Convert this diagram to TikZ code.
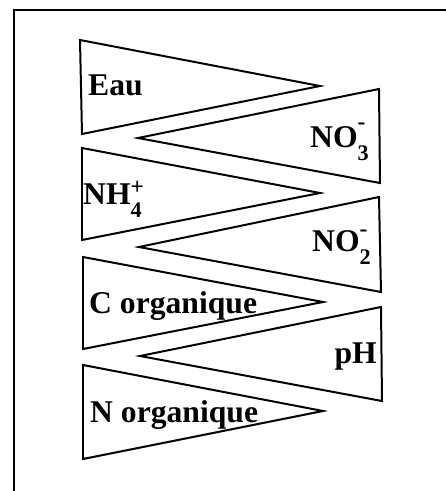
\documentclass[tikz,border=0pt]{standalone}
\usepackage{fontspec}
\setmainfont{Liberation Serif}
\newcommand{\chemion}[3][0.55em]{\rlap{\raisebox{#1}{\fontsize{20}{20}\selectfont #3}}\raisebox{-0.42em}{\fontsize{19}{19}\selectfont #2}}

\begin{document}
\begin{tikzpicture}[x=0.03cm,y=-0.03cm,
				wedge/.style={draw,line width=1.7pt,line join=miter},
				tag/.style={font=\fontsize{27}{31}\selectfont\bfseries,inner sep=0pt}]
				\useasboundingbox (0,0) rectangle (446,491);
				% cadre
				\draw[line width=2pt] (14,491) -- (14,10) -- (446,10);
				% triangles vers la droite
				\draw[wedge] (80,40)  -- (320,86)  -- (82,134) -- cycle;
				\draw[wedge] (82,148) -- (320,193) -- (82,240) -- cycle;
				\draw[wedge] (83,257) -- (323,302) -- (83,349) -- cycle;
				\draw[wedge] (83,365) -- (323,411) -- (83,459) -- cycle;
				% triangles vers la gauche
				\draw[wedge] (379,89)  -- (138,138) -- (380,183) -- cycle;
				\draw[wedge] (379,197) -- (139,247) -- (381,292) -- cycle;
				\draw[wedge] (381,307) -- (140,356) -- (382,401) -- cycle;
				% textes
				\node[tag,anchor=base west] (eau)  at (88,95)   {Eau};
				\node[tag,anchor=base west] (nh)   at (83,204)  {NH\chemion[0.3em]{4}{+}};
				\node[tag,anchor=base west] (corg) at (89,313)  {C organique};
				\node[tag,anchor=base west] (norg) at (90,422)  {N organique};
				\node[tag,anchor=base east] (no3)  at (369,147) {NO\chemion{3}{-}};
				\node[tag,anchor=base east] (no2)  at (371,251) {NO\chemion[0.45em]{2}{-}};
				\node[tag,anchor=base east] (ph)   at (377,363) {pH};
			\end{tikzpicture}
\end{document}
